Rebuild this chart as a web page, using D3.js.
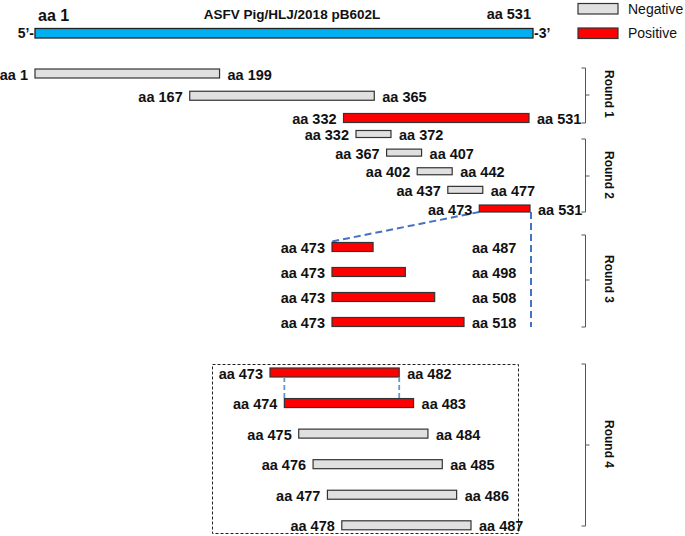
<!DOCTYPE html>
<html><head><meta charset="utf-8">
<script src="https://cdn.jsdelivr.net/npm/d3@7"></script>
<style>
body{margin:0;background:#fff}
svg{display:block;font-family:"Liberation Sans",Arial,sans-serif}
</style>
</head><body><svg id="c" width="685" height="536"></svg>
<script>
// ---------- data ----------
const proteinName = "ASFV Pig/HLJ/2018 pB602L";
const proteinRange = [1, 531];
const legendLabels = ["Negative", "Positive"];
const roundNames = ["Round 1", "Round 2", "Round 3", "Round 4"];

const r1Start = [1, 167, 332];
const r1End = [199, 365, 531];
const r1Result = ["Negative", "Negative", "Positive"];

const r2Start = [332, 367, 402, 437, 473];
const r2End = [372, 407, 442, 477, 531];
const r2Result = ["Negative", "Negative", "Negative", "Negative", "Positive"];

const r3Start = [473, 473, 473, 473];
const r3End = [487, 498, 508, 518];
const r3Result = ["Positive", "Positive", "Positive", "Positive"];

const r4Start = [473, 474, 475, 476, 477, 478];
const r4End = [482, 483, 484, 485, 486, 487];
const r4Result = ["Positive", "Positive", "Negative", "Negative", "Negative", "Negative"];

// ---------- layout (schematic: one scale per round) ----------
const colors = {Negative: "#e0e0e0", Positive: "#ff0000"};
const rounds = [
  {start: r1Start, end: r1End, res: r1Result, xd: [1, 531], xr: [35, 529], yr: [73.5, 118], h: 9, bracket: [68, 123, 95]},
  {start: r2Start, end: r2End, res: r2Result, xd: [332, 531], xr: [356, 530], yr: [134, 208.5], h: 7, bracket: [139, 212, 176]},
  {start: r3Start, end: r3End, res: r3Result, xd: [473, 518], xr: [332, 464], yr: [247, 322], h: 9, bracket: [235, 327, 280], column: true},
  {start: r4Start, end: r4End, res: r4Result, xd: [473, 487], xr: [270, 471], yr: [372.5, 525.3], h: 9, bracket: [364, 526, 445]}
];
rounds.forEach(r => {
  r.x = d3.scaleLinear().domain(r.xd).range(r.xr);
  r.y = d3.scaleLinear().domain([0, r.start.length - 1]).range(r.yr);
  r.rows = r.start.map((s, i) => ({s, e: r.end[i], res: r.res[i], i}));
});

const svg = d3.select("#c");
const ink = "#111";

// ---------- top protein bar ----------
const xTop = d3.scaleLinear().domain(proteinRange).range([35, 533]);
svg.append("rect").attr("x", xTop(proteinRange[0])).attr("y", 28.5)
  .attr("width", xTop(proteinRange[1]) - xTop(proteinRange[0])).attr("height", 9.5)
  .attr("fill", "#00b0f0").attr("stroke", "#222").attr("stroke-width", 1.3);
svg.append("text").attr("x", xTop(proteinRange[0]) + 3).attr("y", 20.5)
  .attr("font-size", 16).attr("font-weight", "bold").attr("fill", ink).text("aa " + proteinRange[0]);
svg.append("text").attr("x", xTop(proteinRange[1]) - 2).attr("y", 19).attr("text-anchor", "end")
  .attr("font-size", 14.5).attr("font-weight", "bold").attr("fill", ink).text("aa " + proteinRange[1]);
svg.append("text").attr("x", 292).attr("y", 19).attr("text-anchor", "middle")
  .attr("font-size", 13.5).attr("font-weight", "bold").attr("fill", ink).text(proteinName);
svg.append("text").attr("x", xTop(proteinRange[0]) - 1).attr("y", 33.5).attr("dy", "0.35em").attr("text-anchor", "end")
  .attr("font-size", 14).attr("font-weight", "bold").attr("fill", ink).text("5\u2019-");
svg.append("text").attr("x", xTop(proteinRange[1]) + 1).attr("y", 33.5).attr("dy", "0.35em")
  .attr("font-size", 14).attr("font-weight", "bold").attr("fill", ink).text("-3\u2019");

// ---------- legend ----------
const lg = svg.append("g").selectAll("g").data(legendLabels).join("g")
  .attr("transform", (d, i) => `translate(578,${3.5 + i * 24.5})`);
lg.append("rect").attr("width", 40).attr("height", 10.5)
  .attr("fill", d => colors[d]).attr("stroke", "#333").attr("stroke-width", 1.2);
lg.append("text").attr("x", 50).attr("y", 5.5).attr("dy", "0.35em")
  .attr("font-size", 14).attr("fill", ink).text(d => d);

// ---------- guide lines (drawn under bars) ----------
const R2 = rounds[1], R3 = rounds[2], R4 = rounds[3];
const last2 = R2.rows[R2.rows.length - 1];
const g2y = R2.y(last2.i) + R2.h / 2;
svg.append("line").attr("x1", R2.x(last2.s)).attr("y1", g2y)
  .attr("x2", R3.x(R3.rows[0].s)).attr("y2", R3.y(0) - R3.h / 2 - 1)
  .attr("stroke", "#4472c4").attr("stroke-width", 2).attr("stroke-dasharray", "7,4");
svg.append("line").attr("x1", R2.x(last2.e) + 1).attr("y1", g2y)
  .attr("x2", R2.x(last2.e) + 1).attr("y2", R3.y(R3.rows.length - 1) + 5)
  .attr("stroke", "#4472c4").attr("stroke-width", 2).attr("stroke-dasharray", "7,4");

// Round 4 box
svg.append("rect").attr("x", 212.5).attr("y", 364.5).attr("width", 306).attr("height", 169)
  .attr("fill", "none").attr("stroke", "#222").attr("stroke-width", 1).attr("stroke-dasharray", "3,2");

// ---------- rounds ----------
rounds.forEach((r, ri) => {
  const g = svg.append("g");
  const rows = g.selectAll("g").data(r.rows).join("g");
  rows.append("rect")
    .attr("x", d => r.x(d.s)).attr("y", d => r.y(d.i) - r.h / 2)
    .attr("width", d => r.x(d.e) - r.x(d.s)).attr("height", r.h)
    .attr("fill", d => colors[d.res]).attr("stroke", "#333").attr("stroke-width", 1.2);
  rows.append("text")
    .attr("x", d => r.x(d.s) - 7).attr("y", d => r.y(d.i) + 1).attr("dy", "0.35em")
    .attr("text-anchor", "end").attr("font-size", 14.5).attr("font-weight", "bold").attr("fill", ink)
    .text(d => "aa " + d.s);
  const colX = r.x(d3.max(r.end)) + 8;
  rows.append("text")
    .attr("x", d => r.column ? colX : r.x(d.e) + 8).attr("y", d => r.y(d.i) + 1).attr("dy", "0.35em")
    .attr("font-size", 14.5).attr("font-weight", "bold").attr("fill", ink)
    .text(d => "aa " + d.e);

  // bracket
  const [t, b, m] = r.bracket;
  g.append("path").attr("d", `M581.5,${t}H585.5V${b}H581.5M585.5,${m}H589.5`)
    .attr("fill", "none").attr("stroke", "#555").attr("stroke-width", 1);
  g.append("text").attr("transform", `translate(609,${m - 1}) rotate(90)`)
    .attr("text-anchor", "middle").attr("dy", "0.35em")
    .attr("font-size", 12).attr("font-weight", "bold").attr("fill", ink).text(roundNames[ri]);
});

// Round 4 overlap guides
const r4a = R4.rows[0], r4b = R4.rows[1];
[R4.x(r4b.s), R4.x(r4a.e)].forEach(x => {
  svg.append("line").attr("x1", x).attr("x2", x)
    .attr("y1", R4.y(0) + R4.h / 2).attr("y2", R4.y(1) - R4.h / 2)
    .attr("stroke", "#5b9bd5").attr("stroke-width", 1.8).attr("stroke-dasharray", "5,3");
});
</script>
</body></html>
